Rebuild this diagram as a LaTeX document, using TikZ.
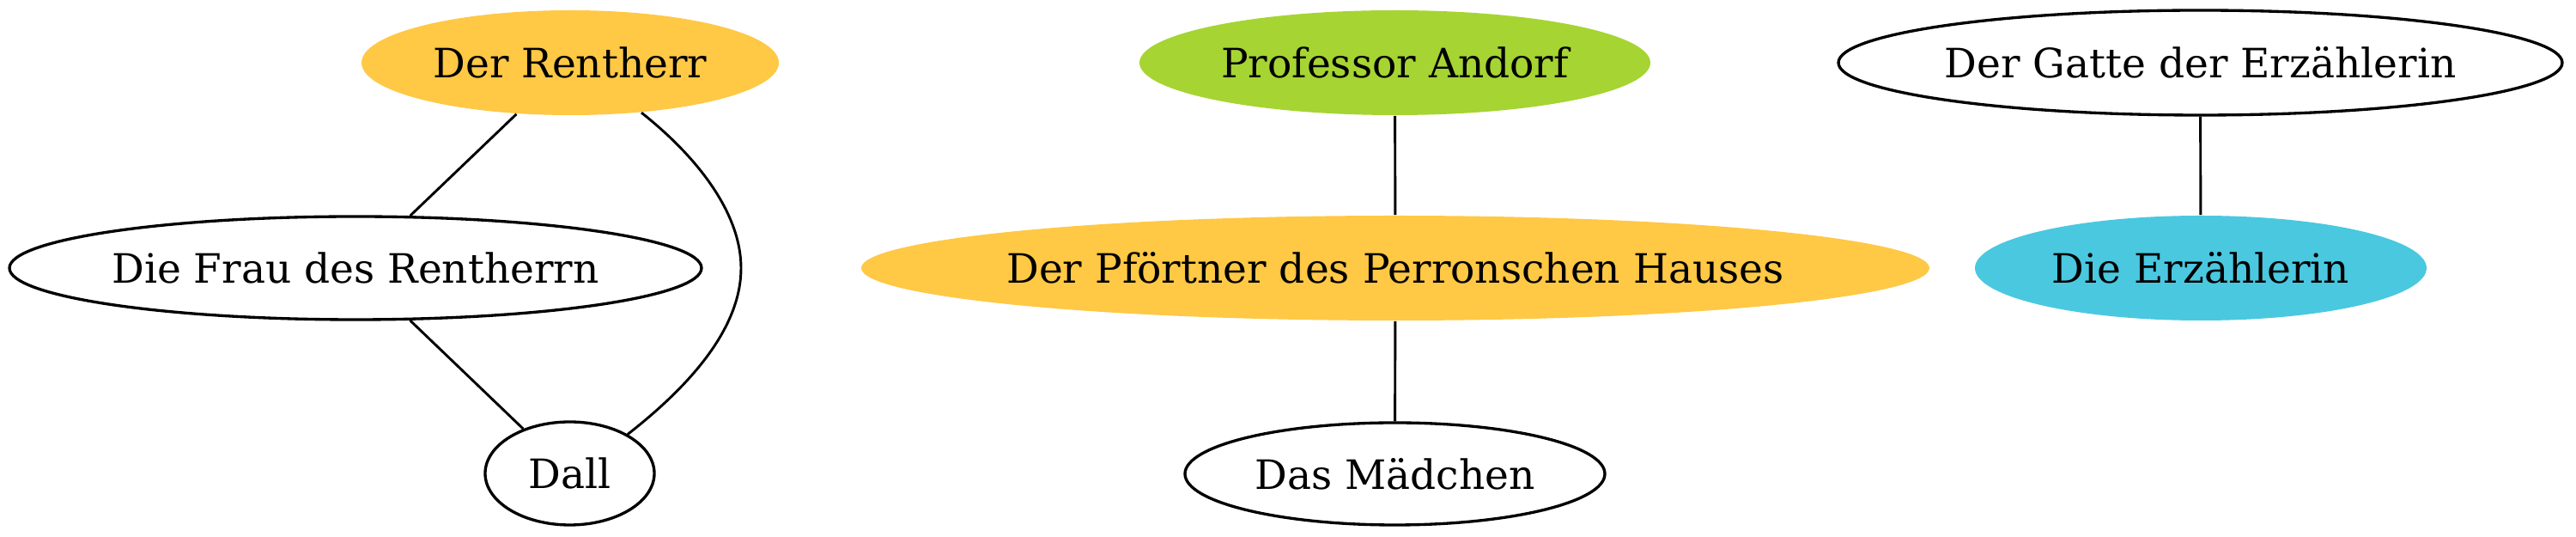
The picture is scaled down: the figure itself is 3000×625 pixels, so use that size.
\documentclass[tikz,border=0pt]{standalone}
\usepackage{fontspec}
\setmainfont{DejaVu Serif}
\usetikzlibrary{shapes.geometric}
\definecolor{gvorange}{HTML}{FFC845}
\definecolor{gvgreen}{HTML}{A6D432}
\definecolor{gvcyan}{HTML}{4AC8E0}
\tikzset{
  el/.style 2 args={ellipse, minimum width=#1*0.24pt, minimum height=#2*0.24pt, inner sep=0pt,
    font=\fontsize{11.3}{13.5}\selectfont},
  plain/.style={draw=black, line width=0.8pt},
  filled/.style={fill=#1, draw=none},
  edge/.style={draw=black, line width=0.7pt}
}
\newcommand{\lbl}[1]{\makebox[0pt]{#1}}
\begin{document}
\begin{tikzpicture}[x=0.24pt, y=0.24pt]
\useasboundingbox (0,0) rectangle (3000,-625);
\node[el={486}{122}, filled=gvorange] (rent) at (664,-73) {\lbl{Der Rentherr}};
\node[el={595}{122}, filled=gvgreen] (andorf) at (1624.5,-73) {\lbl{Professor Andorf}};
\node[el={843}{122}, plain] (gatte) at (2562.5,-73) {\lbl{Der Gatte der Erzählerin}};
\node[el={806}{120}, plain] (frau) at (414,-312) {\lbl{Die Frau des Rentherrn}};
\node[el={1244}{122}, filled=gvorange] (pfort) at (1625,-312) {\lbl{Der Pförtner des Perronschen Hauses}};
\node[el={526}{122}, filled=gvcyan] (erz) at (2563,-312) {\lbl{Die Erzählerin}};
\node[el={197}{120}, plain] (dall) at (663.5,-551) {\lbl{Dall}};
\node[el={489}{119}, plain] (maed) at (1624.5,-551.5) {\lbl{Das Mädchen}};
\draw[edge] (rent) -- (frau);
\draw[edge] (frau) -- (dall);
\draw[edge] (andorf) -- (pfort);
\draw[edge] (pfort) -- (maed);
\draw[edge] (gatte) -- (erz);
\draw[edge] (rent.-35.6) .. controls (815,-185) and (863,-250) .. (863,-312)
  .. controls (863,-375) and (815,-440) .. (dall.34);
\end{tikzpicture}
\end{document}
